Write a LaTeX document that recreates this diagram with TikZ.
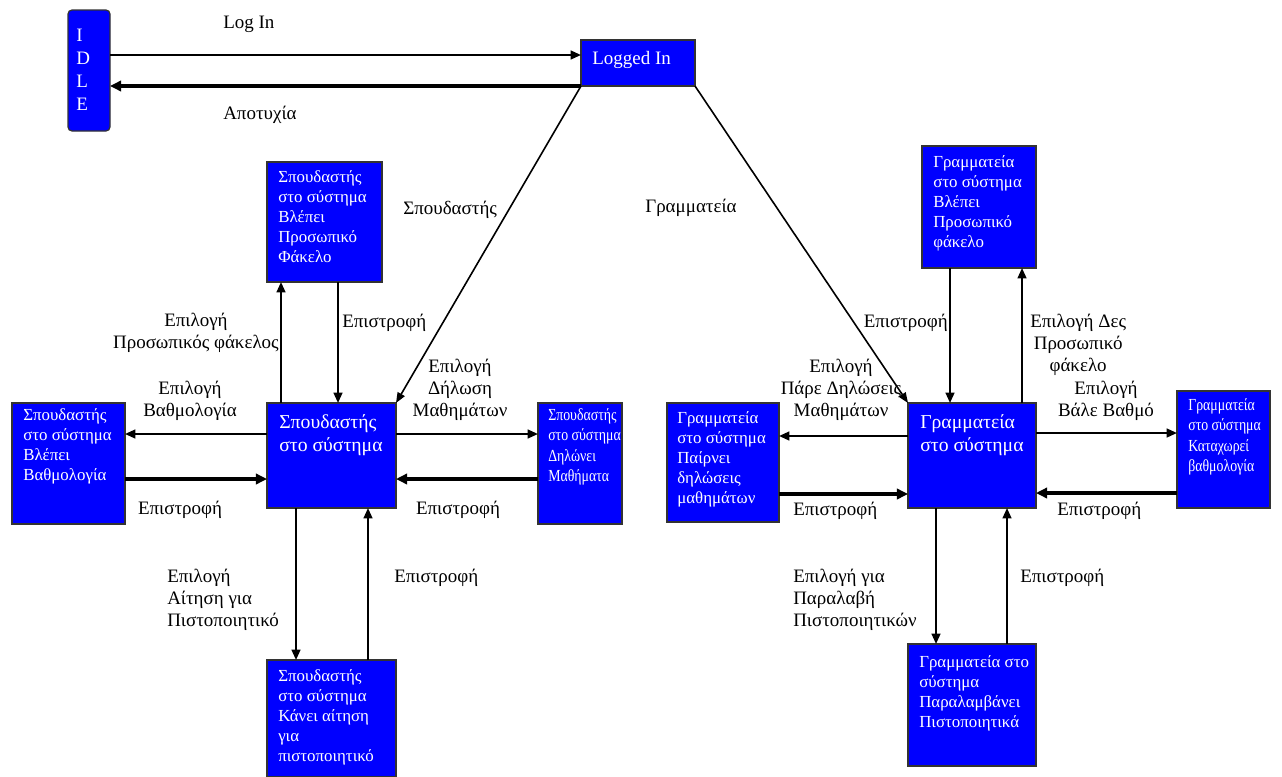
\documentclass[tikz,border=0pt]{standalone}
\usepackage{fontspec}
\setmainfont{Liberation Serif}
\newfontfamily\narrowfont[FakeStretch=0.82]{Liberation Serif}
\usetikzlibrary{arrows.meta,calc,fit}
\definecolor{stblue}{RGB}{0,0,255}
\tikzset{
	state/.style={draw=black!80, line width=0.3mm, fill=stblue, inner sep=0pt, outer sep=0pt},
	intext/.style={anchor=north west, inner sep=0pt, text=white, align=left, font=\fontsize{12}{14.2}\selectfont},
	narrowtext/.style={intext, font=\narrowfont\fontsize{12}{14.6}\selectfont},
	bigtext/.style={intext, font=\fontsize{14}{16.5}\selectfont},
	lbl/.style={inner sep=0pt, font=\fontsize{13.5}{15.6}\selectfont},
	go/.style={line width=0.5mm, -{Triangle[length=2.6mm,width=2.2mm]}},
	back/.style={line width=1mm, -{Triangle[length=2.8mm,width=2.6mm]}},
	slant/.style={line width=0.4mm, -{Triangle[length=2.6mm,width=2.0mm]}}
}

\begin{document}
\begin{tikzpicture}[x=0.25mm, y=-0.25mm]
		%%%%% START %%%%%
		\useasboundingbox (0,0) rectangle (1282,776);
		
		% states
		\node[state, rounded corners=1mm, fit={(68,10) (110,131)}] (idle) {};
		\node[state, fit={(581,40) (695,86)}] (login) {};
		\node[state, fit={(267,162) (382,282)}] (svp) {};
		\node[state, fit={(267,403) (396,508)}] (s) {};
		\node[state, fit={(12,403) (125,524)}] (svb) {};
		\node[state, fit={(538,403) (622,524)}] (sd) {};
		\node[state, fit={(267,660) (396,777)}] (ska) {};
		\node[state, fit={(922,146) (1036,268)}] (gsvp) {};
		\node[state, fit={(908,403) (1036,508)}] (g) {};
		\node[state, fit={(667,403) (779,522)}] (gl) {};
		\node[state, fit={(1177,391) (1270,508)}] (gr) {};
		\node[state, fit={(908,644) (1036,766)}] (gp) {};
		
		\node[bigtext, font=\fontsize{13.5}{16.3}\selectfont] (idlet) at ($(idle.north west)+(8,19)$) {I\\D\\L\\E};
		\node[bigtext, font=\fontsize{13.5}{16}\selectfont] (logint) at ($(login.north west)+(11,11)$) {Logged In};
		\node[intext] (svpt) at ($(svp.north west)+(11,8)$) {Σπουδαστής\\στο σύστημα\\Βλέπει\\Προσωπικό\\Φάκελο};
		\node[bigtext] (st) at ($(s.north west)+(12,11)$) {Σπουδαστής\\στο σύστημα};
		\node[intext] (svbt) at ($(svb.north west)+(11,5)$) {Σπουδαστής\\στο σύστημα\\Βλέπει\\Βαθμολογία};
		\node[narrowtext] (sdt) at ($(sd.north west)+(10,5)$) {Σπουδαστής\\στο σύστημα\\Δηλώνει\\Μαθήματα};
		\node[intext] (skat) at ($(ska.north west)+(11,9)$) {Σπουδαστής\\στο σύστημα\\Κάνει αίτηση\\για\\πιστοποιητικό};
		\node[intext] (gsvpt) at ($(gsvp.north west)+(11,9)$) {Γραμματεία\\στο σύστημα\\Βλέπει\\Προσωπικό\\φάκελο};
		\node[bigtext] (gt) at ($(g.north west)+(12,11)$) {Γραμματεία\\στο σύστημα};
		\node[intext] (glt) at ($(gl.north west)+(10,8)$) {Γραμματεία\\στο σύστημα\\Παίρνει\\δηλώσεις\\μαθημάτων};
		\node[narrowtext] (grt) at ($(gr.north west)+(11,7)$) {Γραμματεία\\στο σύστημα\\Καταχωρεί\\βαθμολογία};
		\node[intext] (gpt) at ($(gp.north west)+(11,11)$) {Γραμματεία στο\\σύστημα\\Παραλαμβάνει\\Πιστοποιητικά};
		
		% transitions
		\draw[go] ($(idle.north east)+(0,45)$) -- ($(login.north west)+(0,15)$);
		\draw[back] (login.south west) -- ($(idle.north east)+(0,76)$);
		\draw[slant] (login.south west) -- (s.north east);
		\draw[slant] (login.south east) -- (g.north west);
		
		\draw[go] ($(s.north west)+(14,0)$) -- ($(svp.south west)+(14,0)$);
		\draw[go] ($(svp.south west)+(71,0)$) -- ($(s.north west)+(71,0)$);
		\draw[go] ($(s.north west)+(0,31)$) -- ($(svb.north east)+(0,31)$);
		\draw[back] ($(svb.north east)+(0,76)$) -- ($(s.north west)+(0,76)$);
		\draw[go] ($(s.north east)+(0,31)$) -- ($(sd.north west)+(0,31)$);
		\draw[back] ($(sd.north west)+(0,76)$) -- ($(s.north east)+(0,76)$);
		\draw[go] ($(s.south west)+(29,0)$) -- ($(ska.north west)+(29,0)$);
		\draw[go] ($(ska.north west)+(101,0)$) -- ($(s.south west)+(101,0)$);
		
		\draw[go] ($(gsvp.south west)+(28,0)$) -- ($(g.north west)+(42,0)$);
		\draw[go] ($(g.north west)+(114,0)$) -- ($(gsvp.south west)+(100,0)$);
		\draw[go] ($(g.north west)+(0,33)$) -- ($(gl.north east)+(0,33)$);
		\draw[back] ($(gl.north east)+(0,91)$) -- ($(g.north west)+(0,91)$);
		\draw[go] ($(g.north east)+(0,30)$) -- ($(gr.north west)+(0,42)$);
		\draw[back] ($(gr.north west)+(0,102)$) -- ($(g.north east)+(0,90)$);
		\draw[go] ($(g.south west)+(28,0)$) -- ($(gp.north west)+(28,0)$);
		\draw[go] ($(gp.north west)+(99,0)$) -- ($(g.south west)+(99,0)$);
		
		% labels
		\node[lbl, anchor=north west] (lLogIn) at (223,16) {Log In};
		\node[lbl, anchor=north west] (lFail) at (223,106) {Αποτυχία};
		\node[lbl, anchor=north west] (lStud) at (403,201) {Σπουδαστής};
		\node[lbl, anchor=north west] (lSecr) at (645,199) {Γραμματεία};
		\node[lbl, anchor=north east, align=center] (lSelPF) at (279,313) {Επιλογή\\Προσωπικός φάκελος};
		\node[lbl, anchor=north west] (lRetPF) at (342,314) {Επιστροφή};
		\node[lbl, anchor=north, align=center] (lSelB) at (190,381) {Επιλογή\\Βαθμολογία};
		\node[lbl, anchor=north, align=center] (lSelD) at (460,359) {Επιλογή\\Δήλωση\\Μαθημάτων};
		\node[lbl, anchor=north] (lRetB) at (180,501) {Επιστροφή};
		\node[lbl, anchor=north] (lRetD) at (458,501) {Επιστροφή};
		\node[lbl, anchor=north west, align=left] (lSelA) at (167,569) {Επιλογή\\Αίτηση για\\Πιστοποιητικό};
		\node[lbl, anchor=north west] (lRetA) at (394,569) {Επιστροφή};
		\node[lbl, anchor=north east] (lRetGF) at (948,314) {Επιστροφή};
		\node[lbl, anchor=north west, align=center] (lSelGF) at (1030,314) {Επιλογή Δες\\Προσωπικό\\φάκελο};
		\node[lbl, anchor=north, align=center] (lSelGD) at (841,359) {Επιλογή\\Πάρε Δηλώσεις\\Μαθημάτων};
		\node[lbl, anchor=north, align=center] (lSelGB) at (1106,381) {Επιλογή\\Βάλε Βαθμό};
		\node[lbl, anchor=north west] (lRetGD) at (793,502) {Επιστροφή};
		\node[lbl, anchor=north west] (lRetGB) at (1057,502) {Επιστροφή};
		\node[lbl, anchor=north west, align=left] (lSelGP) at (793,569) {Επιλογή για\\Παραλαβή\\Πιστοποιητικών};
		\node[lbl, anchor=north west] (lRetGP) at (1020,569) {Επιστροφή};
		
		%%%%% END %%%%%
\end{tikzpicture}
\end{document}
